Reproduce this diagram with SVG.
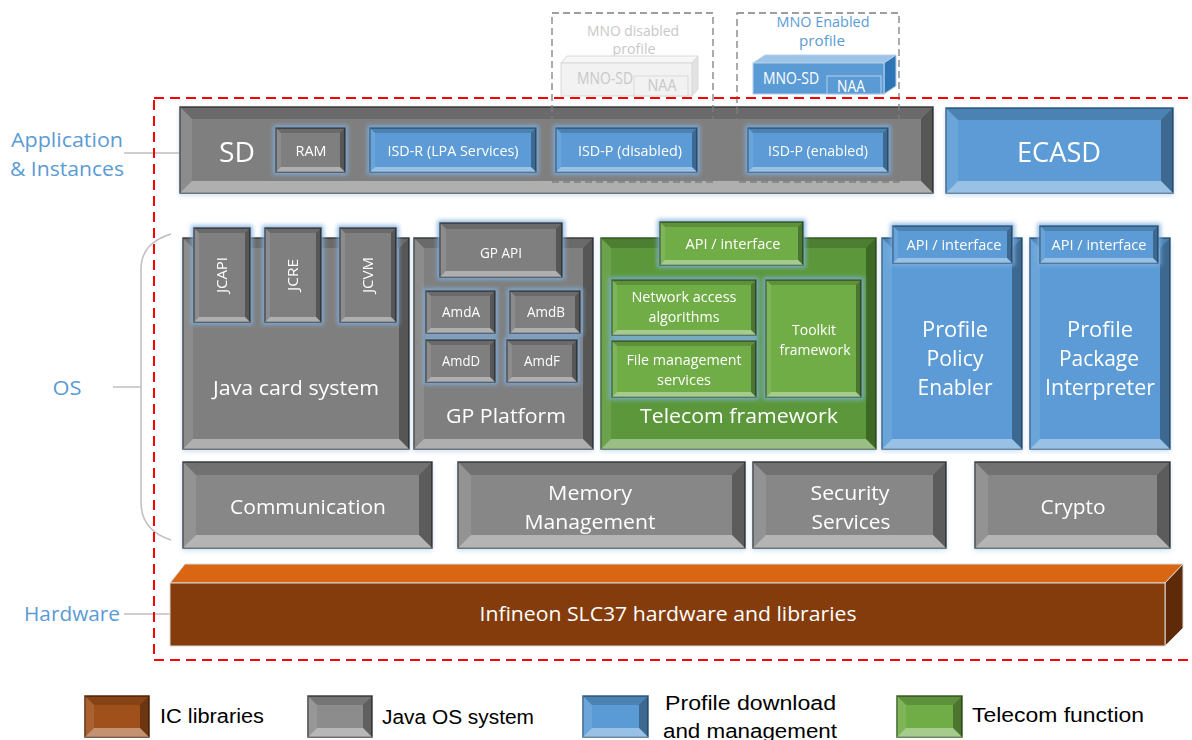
<svg xmlns="http://www.w3.org/2000/svg" width="1192" height="740" viewBox="0 0 1192 740">
  <defs>
    <style>
      text { font-family: "Open Sans", "Liberation Sans", sans-serif; fill: #ffffff; text-anchor: middle; }
      .lbl { fill: #5b9bd5; font-size: 20px; }
      .leg { fill: #000000; font-size: 20px; text-anchor: start; font-family: "Liberation Sans Narrow", "Liberation Sans", sans-serif; }
      .s14 { font-size: 14px; }
      .s16 { font-size: 16px; }
      .s20 { font-size: 20px; }
      .s21 { font-size: 21px; }
      .s28 { font-size: 28px; }
      .gray { fill: #7f7f7f; stroke: #404040; stroke-width: 1.5; }
      .grayF { fill: #878787; stroke: #404040; stroke-width: 1.5; }
      .blue { fill: #5b9bd5; stroke: #35628c; stroke-width: 1.5; }
      .green { fill: #70ad47; stroke: #3b6227; stroke-width: 1.5; }
      .dgreen { fill: #5c983a; stroke: #3b6227; stroke-width: 1.5; }
      .brown { fill: #843c0c; stroke: #5a2907; stroke-width: 1.5; }
      .t { fill: #000000; fill-opacity: 0.16; }
      .r { fill: #000000; fill-opacity: 0.32; }
      .b { fill: #ffffff; fill-opacity: 0.38; }
      .l { fill: #ffffff; fill-opacity: 0.1; }
      .brace { fill: none; stroke: #bfbfbf; stroke-width: 1.5; }
      .mno { fill: none; stroke: #7f7f7f; stroke-width: 1.3; stroke-dasharray: 7 4; }
    </style>
    <filter id="glow" x="-30%" y="-30%" width="160%" height="160%">
      <feMorphology in="SourceAlpha" operator="dilate" radius="2" result="d"/>
      <feGaussianBlur in="d" stdDeviation="2.2" result="bl"/>
      <feFlood flood-color="#7fb0e0" flood-opacity="0.85"/>
      <feComposite in2="bl" operator="in" result="g"/>
      <feMerge><feMergeNode in="g"/><feMergeNode in="SourceGraphic"/></feMerge>
    </filter>
    <filter id="shadow" x="-5%" y="-10%" width="110%" height="130%">
      <feGaussianBlur in="SourceAlpha" stdDeviation="2" result="bl"/>
      <feOffset dx="0" dy="2" result="o"/>
      <feFlood flood-color="#9dc3e6" flood-opacity="0.5"/>
      <feComposite in2="o" operator="in" result="g"/>
      <feMerge><feMergeNode in="g"/><feMergeNode in="SourceGraphic"/></feMerge>
    </filter>
  </defs>

  <rect width="1192" height="740" fill="#ffffff"/>

  <!-- layer labels and braces -->
  <g id="layer-labels">
    <text class="lbl" x="67" y="147" textLength="112" lengthAdjust="spacingAndGlyphs">Application</text>
    <text class="lbl" x="67" y="176" textLength="114" lengthAdjust="spacingAndGlyphs">&amp; Instances</text>
    <line class="brace" x1="124" y1="153" x2="180" y2="153"/>
    <text class="lbl" x="67" y="395" textLength="29" lengthAdjust="spacingAndGlyphs">OS</text>
    <path class="brace" d="M171,234 C152,240 141,250 141,270 L141,502 C141,522 152,534 171,540"/>
    <line class="brace" x1="113" y1="387" x2="141" y2="387"/>
    <text class="lbl" x="72" y="621" textLength="96" lengthAdjust="spacingAndGlyphs">Hardware</text>
    <line class="brace" x1="124" y1="614" x2="170" y2="614"/>
  </g>

  <!-- MNO profiles (above the card) -->
  <g id="mno-disabled">
    <text x="633" y="36" class="s14" style="fill:#c8c8c8" textLength="92" lengthAdjust="spacingAndGlyphs">MNO disabled</text>
    <text x="634" y="54" class="s14" style="fill:#c8c8c8" textLength="43" lengthAdjust="spacingAndGlyphs">profile</text>
    <polygon points="561,63 567,56 698,56 692,63" fill="#f7f7f7" stroke="#d9d9d9"/>
    <polygon points="692,63 698,56 698,89 692,96" fill="#e3e3e3" stroke="#d9d9d9"/>
    <rect x="561" y="63" width="131" height="33" fill="#f2f2f2" stroke="#d9d9d9"/>
    <rect x="634" y="76" width="54" height="20" fill="#f2f2f2" stroke="#d9d9d9"/>
    <text x="605" y="84" class="s16" style="fill:#c8c8c8" textLength="56" lengthAdjust="spacingAndGlyphs">MNO-SD</text>
    <text x="662" y="91" class="s16" style="fill:#c8c8c8" textLength="29" lengthAdjust="spacingAndGlyphs">NAA</text>
  </g>
  <g id="mno-enabled">
    <text x="823" y="27" class="s14" style="fill:#5b9bd5" textLength="93" lengthAdjust="spacingAndGlyphs">MNO Enabled</text>
    <text x="822" y="46" class="s14" style="fill:#5b9bd5" textLength="46" lengthAdjust="spacingAndGlyphs">profile</text>
    <polygon points="753,63 765,55 896,55 884,63" fill="#9dc3e6" stroke="#b4d0ec"/>
    <polygon points="884,63 896,55 896,86 884,94" fill="#2e75b6" stroke="#b4d0ec"/>
    <rect x="753" y="63" width="131" height="31" fill="#5b9bd5" stroke="#b4d0ec"/>
    <rect x="827" y="76" width="54" height="18" fill="#5b9bd5" stroke="#b4d0ec"/>
    <text x="791" y="84" class="s16" textLength="56" lengthAdjust="spacingAndGlyphs">MNO-SD</text>
    <text x="851" y="92" class="s16" textLength="28" lengthAdjust="spacingAndGlyphs">NAA</text>
  </g>

  <!-- Application & Instances row -->
  <g id="sd" filter="url(#shadow)">
    <rect class="gray" x="180" y="107" width="753" height="86"/>
    <polygon class="t" points="180,107 933,107 921,119 192,119"/>
    <polygon class="r" points="933,107 933,193 921,181 921,119"/>
    <polygon class="b" points="180,193 933,193 921,181 192,181"/>
    <polygon class="l" points="180,107 192,119 192,181 180,193"/>
    <text x="237" y="162" class="s28" textLength="36" lengthAdjust="spacingAndGlyphs">SD</text>
  </g>
  <g id="profile-frames">
    <rect class="mno" x="552" y="13" width="161" height="169"/>
    <rect class="mno" x="737" y="13" width="162" height="169"/>
  </g>
  <g id="ram" filter="url(#glow)">
    <rect class="gray" x="276" y="128" width="69" height="44"/>
    <polygon class="t" points="276,128 345,128 340,133 281,133"/>
    <polygon class="r" points="345,128 345,172 340,167 340,133"/>
    <polygon class="b" points="276,172 345,172 340,167 281,167"/>
    <polygon class="l" points="276,128 281,133 281,167 276,172"/>
    <text x="311" y="156" class="s14" textLength="31" lengthAdjust="spacingAndGlyphs">RAM</text>
  </g>
  <g id="isd-r" filter="url(#glow)">
    <rect class="blue" x="370" y="128" width="166" height="44"/>
    <polygon class="t" points="370,128 536,128 531,133 375,133"/>
    <polygon class="r" points="536,128 536,172 531,167 531,133"/>
    <polygon class="b" points="370,172 536,172 531,167 375,167"/>
    <polygon class="l" points="370,128 375,133 375,167 370,172"/>
    <text x="453" y="156" class="s14" textLength="131" lengthAdjust="spacingAndGlyphs">ISD-R (LPA Services)</text>
  </g>
  <g id="isd-p-disabled" filter="url(#glow)">
    <rect class="blue" x="556" y="128" width="141" height="44"/>
    <polygon class="t" points="556,128 697,128 692,133 561,133"/>
    <polygon class="r" points="697,128 697,172 692,167 692,133"/>
    <polygon class="b" points="556,172 697,172 692,167 561,167"/>
    <polygon class="l" points="556,128 561,133 561,167 556,172"/>
    <text x="630" y="156" class="s14" textLength="104" lengthAdjust="spacingAndGlyphs">ISD-P (disabled)</text>
  </g>
  <g id="isd-p-enabled" filter="url(#glow)">
    <rect class="blue" x="748" y="128" width="140" height="44"/>
    <polygon class="t" points="748,128 888,128 883,133 753,133"/>
    <polygon class="r" points="888,128 888,172 883,167 883,133"/>
    <polygon class="b" points="748,172 888,172 883,167 753,167"/>
    <polygon class="l" points="748,128 753,133 753,167 748,172"/>
    <text x="818" y="156" class="s14" textLength="100" lengthAdjust="spacingAndGlyphs">ISD-P (enabled)</text>
  </g>
  <g id="ecasd" filter="url(#shadow)">
    <rect class="blue" x="946" y="108" width="227" height="85"/>
    <polygon class="t" points="946,108 1173,108 1161,120 958,120"/>
    <polygon class="r" points="1173,108 1173,193 1161,181 1161,120"/>
    <polygon class="b" points="946,193 1173,193 1161,181 958,181"/>
    <polygon class="l" points="946,108 958,120 958,181 946,193"/>
    <text x="1059" y="162" class="s28" textLength="84" lengthAdjust="spacingAndGlyphs">ECASD</text>
  </g>

  <!-- OS row: Java card system -->
  <g id="java-card" filter="url(#shadow)">
    <rect class="gray" x="183" y="238" width="226" height="211"/>
    <polygon class="t" points="183,238 409,238 399,248 193,248"/>
    <polygon class="r" points="409,238 409,449 399,439 399,248"/>
    <polygon class="b" points="183,449 409,449 399,439 193,439"/>
    <polygon class="l" points="183,238 193,248 193,439 183,449"/>
    <text x="296" y="395" class="s20" textLength="166" lengthAdjust="spacingAndGlyphs">Java card system</text>
  </g>
  <g id="jcapi" filter="url(#glow)">
    <rect class="gray" x="194" y="228" width="56" height="94"/>
    <polygon class="t" points="194,228 250,228 245,233 199,233"/>
    <polygon class="r" points="250,228 250,322 245,317 245,233"/>
    <polygon class="b" points="194,322 250,322 245,317 199,317"/>
    <polygon class="l" points="194,228 199,233 199,317 194,322"/>
    <text transform="translate(227,275) rotate(-90)" class="s14" textLength="36" lengthAdjust="spacingAndGlyphs">JCAPI</text>
  </g>
  <g id="jcre" filter="url(#glow)">
    <rect class="gray" x="265" y="228" width="56" height="94"/>
    <polygon class="t" points="265,228 321,228 316,233 270,233"/>
    <polygon class="r" points="321,228 321,322 316,317 316,233"/>
    <polygon class="b" points="265,322 321,322 316,317 270,317"/>
    <polygon class="l" points="265,228 270,233 270,317 265,322"/>
    <text transform="translate(298,275) rotate(-90)" class="s14" textLength="32" lengthAdjust="spacingAndGlyphs">JCRE</text>
  </g>
  <g id="jcvm" filter="url(#glow)">
    <rect class="gray" x="340" y="228" width="56" height="94"/>
    <polygon class="t" points="340,228 396,228 391,233 345,233"/>
    <polygon class="r" points="396,228 396,322 391,317 391,233"/>
    <polygon class="b" points="340,322 396,322 391,317 345,317"/>
    <polygon class="l" points="340,228 345,233 345,317 340,322"/>
    <text transform="translate(373,275) rotate(-90)" class="s14" textLength="36" lengthAdjust="spacingAndGlyphs">JCVM</text>
  </g>

  <!-- OS row: GP Platform -->
  <g id="gp-platform" filter="url(#shadow)">
    <rect class="gray" x="414" y="238" width="179" height="211"/>
    <polygon class="t" points="414,238 593,238 583,248 424,248"/>
    <polygon class="r" points="593,238 593,449 583,439 583,248"/>
    <polygon class="b" points="414,449 593,449 583,439 424,439"/>
    <polygon class="l" points="414,238 424,248 424,439 414,449"/>
    <text x="506" y="423" class="s20" textLength="120" lengthAdjust="spacingAndGlyphs">GP Platform</text>
  </g>
  <g id="gp-api" filter="url(#glow)">
    <rect class="gray" x="440" y="223" width="122" height="54"/>
    <polygon class="t" points="440,223 562,223 556,229 446,229"/>
    <polygon class="r" points="562,223 562,277 556,271 556,229"/>
    <polygon class="b" points="440,277 562,277 556,271 446,271"/>
    <polygon class="l" points="440,223 446,229 446,271 440,277"/>
    <text x="501" y="258" class="s14" textLength="42" lengthAdjust="spacingAndGlyphs">GP API</text>
  </g>
  <g id="amd" filter="url(#glow)">
    <rect class="gray" x="426" y="291" width="69" height="42"/>
    <polygon class="t" points="426,291 495,291 490,296 431,296"/>
    <polygon class="r" points="495,291 495,333 490,328 490,296"/>
    <polygon class="b" points="426,333 495,333 490,328 431,328"/>
    <polygon class="l" points="426,291 431,296 431,328 426,333"/>
    <text x="461" y="317" class="s14" textLength="38" lengthAdjust="spacingAndGlyphs">AmdA</text>
    <rect class="gray" x="510" y="291" width="70" height="42"/>
    <polygon class="t" points="510,291 580,291 575,296 515,296"/>
    <polygon class="r" points="580,291 580,333 575,328 575,296"/>
    <polygon class="b" points="510,333 580,333 575,328 515,328"/>
    <polygon class="l" points="510,291 515,296 515,328 510,333"/>
    <text x="546" y="317" class="s14" textLength="38" lengthAdjust="spacingAndGlyphs">AmdB</text>
    <rect class="gray" x="426" y="340" width="69" height="42"/>
    <polygon class="t" points="426,340 495,340 490,345 431,345"/>
    <polygon class="r" points="495,340 495,382 490,377 490,345"/>
    <polygon class="b" points="426,382 495,382 490,377 431,377"/>
    <polygon class="l" points="426,340 431,345 431,377 426,382"/>
    <text x="461" y="366" class="s14" textLength="38" lengthAdjust="spacingAndGlyphs">AmdD</text>
    <rect class="gray" x="507" y="340" width="70" height="42"/>
    <polygon class="t" points="507,340 577,340 572,345 512,345"/>
    <polygon class="r" points="577,340 577,382 572,377 572,345"/>
    <polygon class="b" points="507,382 577,382 572,377 512,377"/>
    <polygon class="l" points="507,340 512,345 512,377 507,382"/>
    <text x="542" y="366" class="s14" textLength="36" lengthAdjust="spacingAndGlyphs">AmdF</text>
  </g>

  <!-- OS row: Telecom framework -->
  <g id="telecom" filter="url(#shadow)">
    <rect class="dgreen" x="601" y="238" width="275" height="211"/>
    <polygon class="t" points="601,238 876,238 866,248 611,248"/>
    <polygon class="r" points="876,238 876,449 866,439 866,248"/>
    <polygon class="b" points="601,449 876,449 866,439 611,439"/>
    <polygon class="l" points="601,238 611,248 611,439 601,449"/>
    <text x="739" y="423" class="s20" textLength="198" lengthAdjust="spacingAndGlyphs">Telecom framework</text>
  </g>
  <g id="telecom-api" filter="url(#glow)">
    <rect class="green" x="660" y="222" width="143" height="43"/>
    <polygon class="t" points="660,222 803,222 798,227 665,227"/>
    <polygon class="r" points="803,222 803,265 798,260 798,227"/>
    <polygon class="b" points="660,265 803,265 798,260 665,260"/>
    <polygon class="l" points="660,222 665,227 665,260 660,265"/>
    <text x="733" y="249" class="s14" textLength="95" lengthAdjust="spacingAndGlyphs">API / interface</text>
  </g>
  <g id="telecom-parts" filter="url(#glow)">
    <rect class="green" x="612" y="280" width="144" height="55"/>
    <polygon class="t" points="612,280 756,280 751,285 617,285"/>
    <polygon class="r" points="756,280 756,335 751,330 751,285"/>
    <polygon class="b" points="612,335 756,335 751,330 617,330"/>
    <polygon class="l" points="612,280 617,285 617,330 612,335"/>
    <text x="684" y="302" class="s14" textLength="105" lengthAdjust="spacingAndGlyphs">Network access</text>
    <text x="684" y="322" class="s14" textLength="71" lengthAdjust="spacingAndGlyphs">algorithms</text>
    <rect class="green" x="612" y="341" width="144" height="56"/>
    <polygon class="t" points="612,341 756,341 751,346 617,346"/>
    <polygon class="r" points="756,341 756,397 751,392 751,346"/>
    <polygon class="b" points="612,397 756,397 751,392 617,392"/>
    <polygon class="l" points="612,341 617,346 617,392 612,397"/>
    <text x="684" y="365" class="s14" textLength="115" lengthAdjust="spacingAndGlyphs">File management</text>
    <text x="684" y="385" class="s14" textLength="54" lengthAdjust="spacingAndGlyphs">services</text>
    <rect class="green" x="766" y="280" width="95" height="117"/>
    <polygon class="t" points="766,280 861,280 856,285 771,285"/>
    <polygon class="r" points="861,280 861,397 856,392 856,285"/>
    <polygon class="b" points="766,397 861,397 856,392 771,392"/>
    <polygon class="l" points="766,280 771,285 771,392 766,397"/>
    <text x="814" y="335" class="s14" textLength="44" lengthAdjust="spacingAndGlyphs">Toolkit</text>
    <text x="815" y="355" class="s14" textLength="71" lengthAdjust="spacingAndGlyphs">framework</text>
  </g>

  <!-- OS row: Profile Policy Enabler -->
  <g id="ppe" filter="url(#shadow)">
    <rect class="blue" x="882" y="238" width="140" height="211"/>
    <polygon class="t" points="882,238 1022,238 1012,248 892,248"/>
    <polygon class="r" points="1022,238 1022,449 1012,439 1012,248"/>
    <polygon class="b" points="882,449 1022,449 1012,439 892,439"/>
    <polygon class="l" points="882,238 892,248 892,439 882,449"/>
    <text x="955" y="337" class="s21" textLength="66" lengthAdjust="spacingAndGlyphs">Profile</text>
    <text x="955" y="366" class="s21" textLength="57" lengthAdjust="spacingAndGlyphs">Policy</text>
    <text x="955" y="395" class="s21" textLength="75" lengthAdjust="spacingAndGlyphs">Enabler</text>
  </g>
  <g id="ppe-api" filter="url(#glow)">
    <rect class="blue" x="893" y="226" width="119" height="37"/>
    <polygon class="t" points="893,226 1012,226 1007,231 898,231"/>
    <polygon class="r" points="1012,226 1012,263 1007,258 1007,231"/>
    <polygon class="b" points="893,263 1012,263 1007,258 898,258"/>
    <polygon class="l" points="893,226 898,231 898,258 893,263"/>
    <text x="954" y="250" class="s14" textLength="95" lengthAdjust="spacingAndGlyphs">API / interface</text>
  </g>

  <!-- OS row: Profile Package Interpreter -->
  <g id="ppi" filter="url(#shadow)">
    <rect class="blue" x="1030" y="238" width="140" height="211"/>
    <polygon class="t" points="1030,238 1170,238 1160,248 1040,248"/>
    <polygon class="r" points="1170,238 1170,449 1160,439 1160,248"/>
    <polygon class="b" points="1030,449 1170,449 1160,439 1040,439"/>
    <polygon class="l" points="1030,238 1040,248 1040,439 1030,449"/>
    <text x="1100" y="337" class="s21" textLength="66" lengthAdjust="spacingAndGlyphs">Profile</text>
    <text x="1099" y="366" class="s21" textLength="80" lengthAdjust="spacingAndGlyphs">Package</text>
    <text x="1100" y="395" class="s21" textLength="110" lengthAdjust="spacingAndGlyphs">Interpreter</text>
  </g>
  <g id="ppi-api" filter="url(#glow)">
    <rect class="blue" x="1040" y="226" width="118" height="37"/>
    <polygon class="t" points="1040,226 1158,226 1153,231 1045,231"/>
    <polygon class="r" points="1158,226 1158,263 1153,258 1153,231"/>
    <polygon class="b" points="1040,263 1158,263 1153,258 1045,258"/>
    <polygon class="l" points="1040,226 1045,231 1045,258 1040,263"/>
    <text x="1099" y="250" class="s14" textLength="95" lengthAdjust="spacingAndGlyphs">API / interface</text>
  </g>

  <!-- OS row: base services -->
  <g id="communication" filter="url(#shadow)">
    <rect class="grayF" x="183" y="462" width="249" height="86"/>
    <polygon class="t" points="183,462 432,462 419,475 196,475"/>
    <polygon class="r" points="432,462 432,548 419,535 419,475"/>
    <polygon class="b" points="183,548 432,548 419,535 196,535"/>
    <polygon class="l" points="183,462 196,475 196,535 183,548"/>
    <text x="308" y="514" class="s20" textLength="156" lengthAdjust="spacingAndGlyphs">Communication</text>
  </g>
  <g id="memory" filter="url(#shadow)">
    <rect class="grayF" x="458" y="462" width="287" height="86"/>
    <polygon class="t" points="458,462 745,462 732,475 471,475"/>
    <polygon class="r" points="745,462 745,548 732,535 732,475"/>
    <polygon class="b" points="458,548 745,548 732,535 471,535"/>
    <polygon class="l" points="458,462 471,475 471,535 458,548"/>
    <text x="590" y="500" class="s20" textLength="84" lengthAdjust="spacingAndGlyphs">Memory</text>
    <text x="590" y="529" class="s20" textLength="131" lengthAdjust="spacingAndGlyphs">Management</text>
  </g>
  <g id="security" filter="url(#shadow)">
    <rect class="grayF" x="753" y="462" width="193" height="86"/>
    <polygon class="t" points="753,462 946,462 933,475 766,475"/>
    <polygon class="r" points="946,462 946,548 933,535 933,475"/>
    <polygon class="b" points="753,548 946,548 933,535 766,535"/>
    <polygon class="l" points="753,462 766,475 766,535 753,548"/>
    <text x="850" y="500" class="s20" textLength="79" lengthAdjust="spacingAndGlyphs">Security</text>
    <text x="851" y="529" class="s20" textLength="79" lengthAdjust="spacingAndGlyphs">Services</text>
  </g>
  <g id="crypto" filter="url(#shadow)">
    <rect class="grayF" x="975" y="462" width="195" height="86"/>
    <polygon class="t" points="975,462 1170,462 1157,475 988,475"/>
    <polygon class="r" points="1170,462 1170,548 1157,535 1157,475"/>
    <polygon class="b" points="975,548 1170,548 1157,535 988,535"/>
    <polygon class="l" points="975,462 988,475 988,535 975,548"/>
    <text x="1073" y="514" class="s20" textLength="65" lengthAdjust="spacingAndGlyphs">Crypto</text>
  </g>

  <!-- Hardware -->
  <g id="hardware">
    <polygon points="170,583 185,564 1183,564 1165,583" fill="#d86613" stroke="#d9d9d9"/>
    <polygon points="1165,583 1183,564 1183,628 1165,646" fill="#5e2a08" stroke="#d9d9d9"/>
    <rect x="170" y="583" width="995" height="63" fill="#843c0c" stroke="#d9d9d9"/>
    <text x="668" y="621" class="s20" textLength="377" lengthAdjust="spacingAndGlyphs">Infineon SLC37 hardware and libraries</text>
  </g>

  <!-- Boundary of the card OS (right edge runs past the page) -->
  <rect x="154" y="98" width="1100" height="562" fill="none" stroke="#ff0000" stroke-width="2" stroke-dasharray="10 6"/>

  <!-- Legend -->
  <g id="legend-ic">
    <rect class="brown" x="85" y="696" width="64" height="41" style="fill:#a0501a"/>
    <polygon class="t" points="85,696 149,696 140,705 94,705"/>
    <polygon class="r" points="149,696 149,737 140,728 140,705"/>
    <polygon class="b" points="85,737 149,737 140,728 94,728"/>
    <polygon class="l" points="85,696 94,705 94,728 85,737"/>
    <text class="leg" x="160" y="723" textLength="104" lengthAdjust="spacingAndGlyphs">IC libraries</text>
  </g>
  <g id="legend-os">
    <rect class="gray" x="308" y="696" width="64" height="41" style="fill:#8c8c8c"/>
    <polygon class="t" points="308,696 372,696 363,705 317,705"/>
    <polygon class="r" points="372,696 372,737 363,728 363,705"/>
    <polygon class="b" points="308,737 372,737 363,728 317,728"/>
    <polygon class="l" points="308,696 317,705 317,728 308,737"/>
    <text class="leg" x="382" y="724" textLength="152" lengthAdjust="spacingAndGlyphs">Java OS system</text>
  </g>
  <g id="legend-profile">
    <rect class="blue" x="583" y="696" width="65" height="41"/>
    <polygon class="t" points="583,696 648,696 639,705 592,705"/>
    <polygon class="r" points="648,696 648,737 639,728 639,705"/>
    <polygon class="b" points="583,737 648,737 639,728 592,728"/>
    <polygon class="l" points="583,696 592,705 592,728 583,737"/>
    <text class="leg" x="665" y="710" textLength="171" lengthAdjust="spacingAndGlyphs">Profile download</text>
    <text class="leg" x="663" y="738" textLength="174" lengthAdjust="spacingAndGlyphs">and management</text>
  </g>
  <g id="legend-telecom">
    <rect class="green" x="897" y="696" width="65" height="41"/>
    <polygon class="t" points="897,696 962,696 953,705 906,705"/>
    <polygon class="r" points="962,696 962,737 953,728 953,705"/>
    <polygon class="b" points="897,737 962,737 953,728 906,728"/>
    <polygon class="l" points="897,696 906,705 906,728 897,737"/>
    <text class="leg" x="972" y="722" textLength="172" lengthAdjust="spacingAndGlyphs">Telecom function</text>
  </g>
</svg>
